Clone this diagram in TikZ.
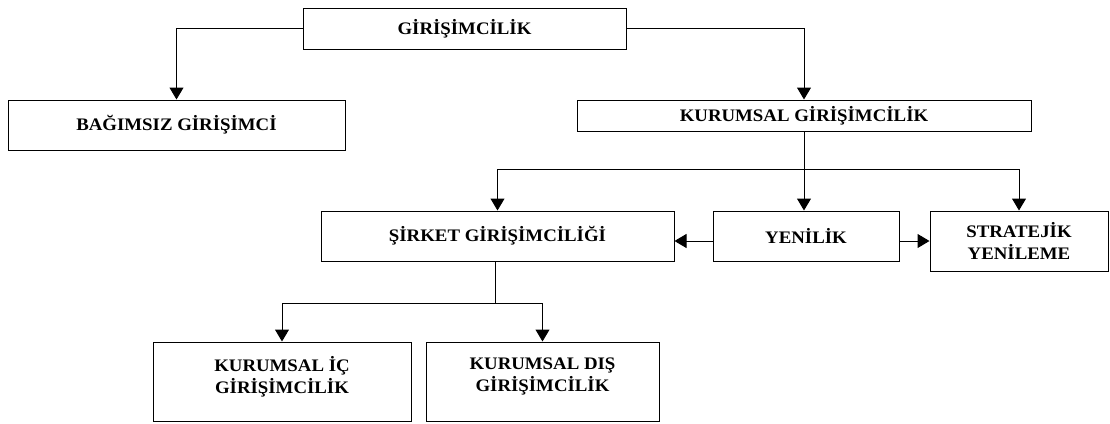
\documentclass[tikz,border=0pt]{standalone}
\usepackage{fontspec}
\setmainfont{Liberation Serif}[FakeStretch=1.07]
\usetikzlibrary{arrows.meta}
\begin{document}
\begin{tikzpicture}[x=1pt,y=-1pt,
	box/.style={rectangle, draw, line width=1pt, inner sep=0pt, align=center,
		font=\fontsize{17.6}{22}\selectfont\bfseries},
	link/.style={-{Triangle[length=12pt,width=14pt]}, line width=1pt}]
	\useasboundingbox (0,0) rectangle (1110,423);

	\node[box, minimum width=323, minimum height=41] (gir) at (464.5, 28.5) {GİRİŞİMCİLİK};
	\node[box, minimum width=337, minimum height=50] (bag) at (176.5, 125) {BAĞIMSIZ GİRİŞİMCİ};
	\node[box, minimum width=454, minimum height=31] (kur) at (804, 115.5) {KURUMSAL GİRİŞİMCİLİK};
	\node[box, minimum width=353, minimum height=50] (sir) at (497.5, 236) {ŞİRKET GİRİŞİMCİLİĞİ};
	\node[box, minimum width=186, minimum height=50] (yen) at (806, 236) {YENİLİK};
	\node[box, minimum width=178, minimum height=60] (str) at (1019, 241) {STRATEJİK\\YENİLEME};
	\node[box, minimum width=258, minimum height=79] (ic) at (282, 381.5) {KURUMSAL İÇ\\GİRİŞİMCİLİK\\[-8pt]};
	\node[box, minimum width=233, minimum height=79] (dis) at (542.5, 381.5) {KURUMSAL DIŞ\\GİRİŞİMCİLİK\\[-8pt]};

	\coordinate (k1) at (804, 169);
	\coordinate (s1) at (495, 303);

	\draw[link] (gir.west) -| (bag.north);
	\draw[link] (gir.east) -| (kur.north);
	\draw[line width=1pt] (kur.south) -- (k1);
	\draw[link] (k1) -| (sir.north);
	\draw[link] (k1) -- (k1 |- yen.north);
	\draw[link] (k1) -| (str.north);
	\draw[link] ([yshift=-5pt]yen.west) -- ([yshift=-5pt]sir.east);
	\draw[link] ([yshift=-5pt]yen.east) -- (str.west);
	\draw[line width=1pt] (s1 |- sir.south) -- (s1);
	\draw[link] (s1) -| (ic.north);
	\draw[link] (s1) -| (dis.north);

\end{tikzpicture}
\end{document}
